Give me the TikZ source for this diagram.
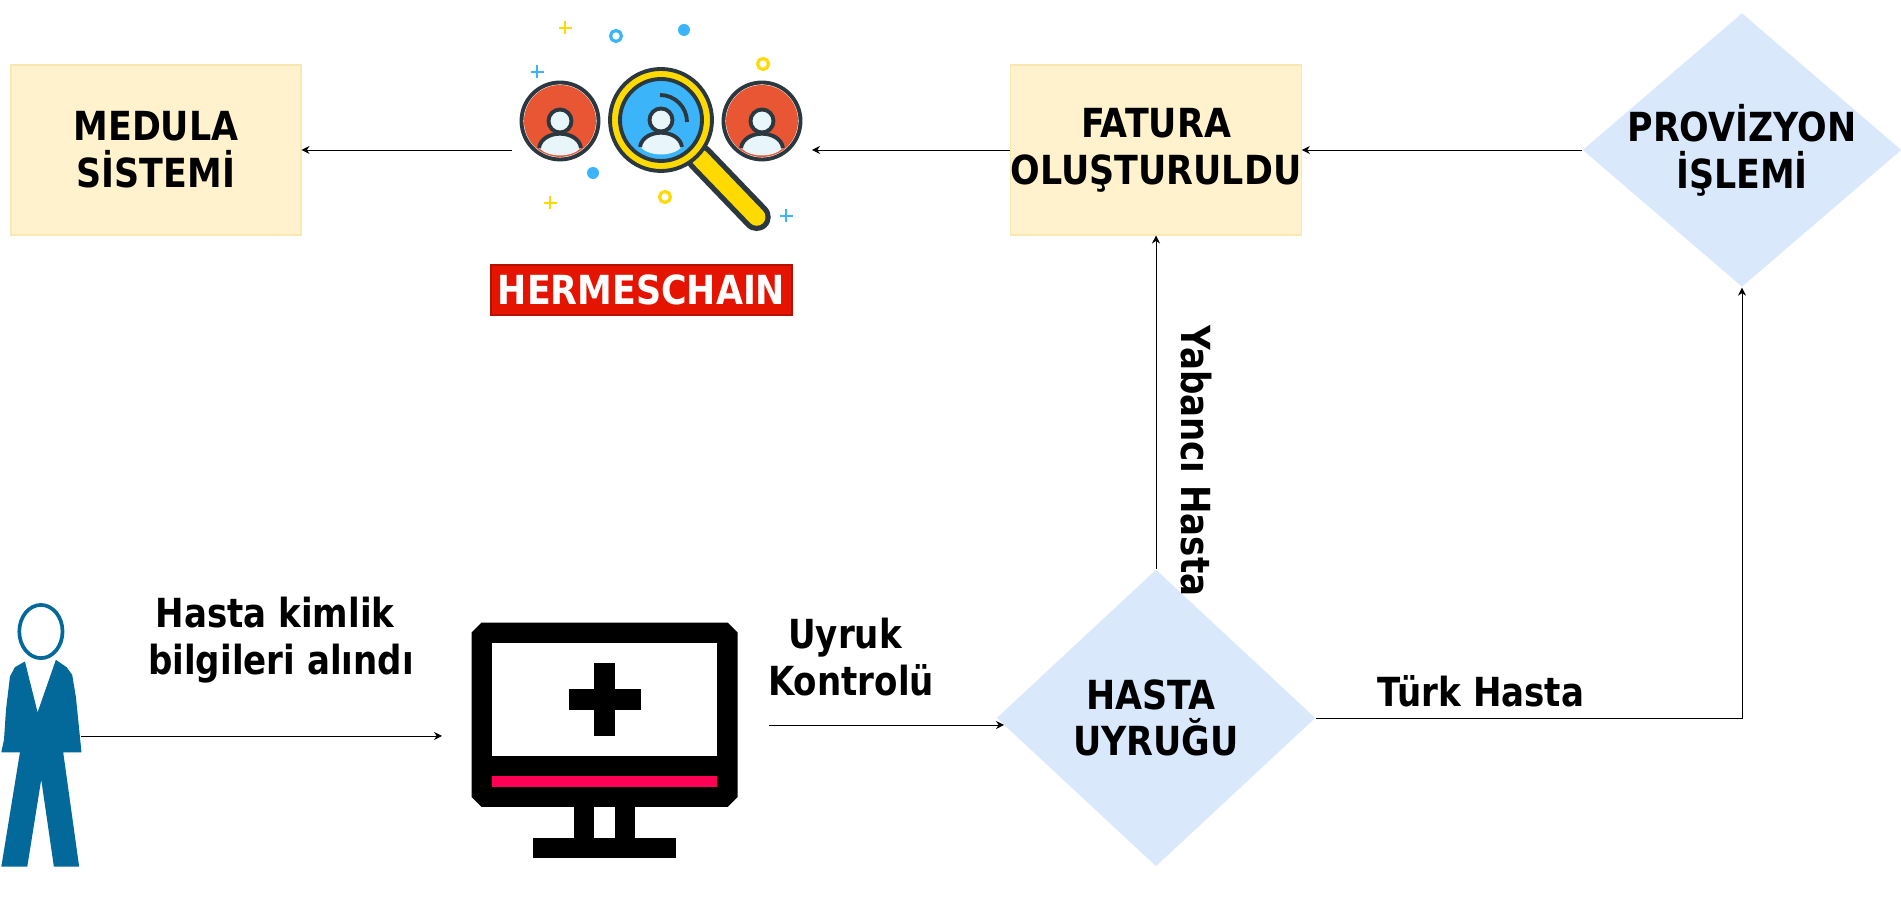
\documentclass[tikz,border=0pt]{standalone}
\usepackage{fontspec}
\setmainfont{DejaVu Sans}[FakeStretch=0.87]
\newfontfamily\kucukyazi{DejaVu Sans}[FakeStretch=0.85]
\usetikzlibrary{positioning,shapes.geometric,arrows.meta}
\definecolor{kutusari}{RGB}{255,242,204}
\definecolor{kutukenar}{RGB}{250,232,180}
\definecolor{karomavi}{RGB}{218,232,252}
\definecolor{kisimavi}{RGB}{3,105,155}
\definecolor{hermesred}{RGB}{229,20,0}
\definecolor{koyu}{RGB}{43,56,64}
\definecolor{turuncu}{RGB}{232,86,52}
\definecolor{buzmavi}{RGB}{232,245,250}
\definecolor{gokmavi}{RGB}{60,180,250}
\definecolor{limon}{RGB}{255,218,0}
\definecolor{pembe}{RGB}{255,0,85}
\tikzset{
  yazi/.style={font=\fontsize{11.4}{13.3}\selectfont\bfseries, align=center, inner sep=0pt},
  etiket/.style={font=\fontsize{11.4}{13.3}\selectfont\kucukyazi\bfseries, align=center, inner sep=0pt},
  kutu/.style={yazi, draw=kutukenar, fill=kutusari, minimum width=2.9cm, minimum height=1.7cm, line width=0.3pt},
  karo/.style={diamond, fill=karomavi, inner sep=0pt, minimum width=3.19cm},
  baglanti/.style={-{Stealth[length=0.08cm,width=0.08cm]}, line width=0.25pt},
  ikonhat/.style={draw=koyu, line width=1.1pt},
  pikselkare/.style={x=0.00333cm, y=-0.00333cm},
}
\newcommand{\kisiikon}[4]{
  \fill[#3] (#1,#2) circle (#4);
  \fill[buzmavi] (#1-0.21,#2-0.27) .. controls (#1-0.18,#2-0.08) and (#1+0.18,#2-0.08) .. (#1+0.21,#2-0.27) .. controls (#1+0.11,#2-0.37) and (#1-0.11,#2-0.37) .. (#1-0.21,#2-0.27) -- cycle;
  \draw[ikonhat] (#1-0.21,#2-0.27) .. controls (#1-0.18,#2-0.08) and (#1+0.18,#2-0.08) .. (#1+0.21,#2-0.27);
  \draw[ikonhat, fill=buzmavi] (#1,#2) circle (0.115);
}
\newcommand{\arti}[3]{\draw[#3, line width=0.75pt] (#1-0.065,#2) -- (#1+0.065,#2) (#1,#2-0.065) -- (#1,#2+0.065);}
\newcommand{\halka}[3]{\draw[#3, line width=0.9pt] (#1,#2) circle (0.055);}
\newcommand{\nokta}[3]{\fill[#3] (#1,#2) circle (0.06);}
\newcommand{\SolX}{1.56}
\newcommand{\OrtaX}{11.56}
\newcommand{\SagX}{17.42}
\newcommand{\UstY}{7.51}
\newcommand{\AltY}{1.83}

\begin{document}
\begin{tikzpicture}
  \useasboundingbox (0,0) rectangle (19.01,9.01);

  \node[kutu] (medula) at (\SolX,\UstY) {MEDULA\\SİSTEMİ};
  \node[kutu] (fatura) at (\OrtaX,\UstY) {FATURA\\OLUŞTURULDU};
  \node[karo, aspect=1.164, minimum height=2.74cm] (provizyon) at (\SagX,\UstY) {};
  \node[karo, aspect=1.074, minimum height=2.97cm] (uyruk) at (\OrtaX,\AltY) {};
  \node[yazi] (provizyonyazi) at (provizyon) {PROVİZYON\\İŞLEMİ};
  \node[yazi] (uyrukyazi) at (uyruk) {HASTA\hspace*{0.1cm}\\UYRUĞU};
  \node[yazi, fill=hermesred, draw=hermesred!80!black, text=white, minimum width=3.01cm, minimum height=0.5cm, line width=0.3pt] (hermes) at (6.415,6.11) {HERMESCHAIN};

  \node[etiket] (kimlik) at (2.81,2.61) {Hasta kimlik\hspace*{0.12cm}\\bilgileri alındı};
  \node[etiket] (kontrol) at (8.51,2.44) {Uyruk\hspace*{0.12cm}\\Kontrolü};
  \node[etiket] (turk) at (14.81,2.10) {Türk Hasta};
  \node[etiket, rotate=-90] (yabanci) at (11.96,4.40) {Yabancı Hasta};

  % kisi
  \begin{scope}[shift={(0,3.21)}, pikselkare]
    \fill[kisimavi] (75,245) -- (113,398) -- (168,240) -- (200,262) -- (217,285) -- (228,350) -- (245,518) -- (190,518) -- (238,862) -- (162,862) -- (124,600) -- (82,862) -- (4,862) -- (60,518) -- (4,518) -- (12,480) -- (18,390) -- (30,290) -- (45,262) -- cycle;
    \draw[kisimavi, line width=1.05pt] (123,155) ellipse (65 and 80);
  \end{scope}
  \coordinate (kisi) at (0.81,1.65);

  % monitor
  \begin{scope}[shift={(4.5,3.01)}, pikselkare]
    \fill[black] (95,68) -- (835,68) -- (865,98) -- (865,592) -- (835,622) -- (95,622) -- (65,592) -- (65,98) -- cycle;
    \fill[white] (125,130) rectangle (803,468);
    \fill[pembe] (127,530) rectangle (803,562);
    \fill[black] (434,190) rectangle (496,408);
    \fill[black] (357,268) rectangle (573,330);
    \fill[black] (373,622) rectangle (557,715);
    \fill[white] (434,622) rectangle (496,715);
    \fill[black] (249,715) rectangle (680,777);
  \end{scope}
  \coordinate (monitor) at (4.42,1.65);
  \coordinate (monitorcikis) at (7.69,1.76);
  \coordinate (uyrukgiris) at (10.04,1.76);

  % arama ikonu
  \draw[koyu, line width=8pt, line cap=round] (7.0,7.43) -- (7.567,6.84);
  \draw[limon, line width=5pt, line cap=round] (7.0,7.43) -- (7.567,6.84);
  \kisiikon{5.6}{7.8}{turuncu}{0.36}
  \draw[ikonhat] (5.6,7.8) circle (0.385);
  \kisiikon{7.62}{7.8}{turuncu}{0.36}
  \draw[ikonhat] (7.62,7.8) circle (0.385);
  \fill[limon] (6.61,7.81) circle (0.495);
  \kisiikon{6.61}{7.81}{gokmavi}{0.4}
  \draw[ikonhat] (6.61,7.81) circle (0.41);
  \draw[ikonhat] (6.61,7.81) circle (0.51);
  \draw[koyu, line width=1.1pt] (6.60,8.06) arc (90:0:0.27);
  \arti{5.65}{8.73}{limon}
  \arti{5.37}{8.29}{gokmavi}
  \arti{5.50}{6.98}{limon}
  \arti{7.86}{6.85}{gokmavi}
  \halka{6.16}{8.65}{gokmavi}
  \halka{7.63}{8.37}{limon}
  \halka{6.65}{7.04}{limon}
  \nokta{6.84}{8.71}{gokmavi}
  \nokta{5.93}{7.28}{gokmavi}
  \coordinate (aramasol) at (5.12,\UstY);
  \coordinate (aramasag) at (8.12,\UstY);

  \draw[baglanti] (provizyon.west) -- (fatura.east);
  \draw[baglanti] (fatura.west) -- (aramasag);
  \draw[baglanti] (aramasol) -- (medula.east);
  \draw[baglanti] (kisi) -- (monitor);
  \draw[baglanti] (monitorcikis) -- (uyrukgiris);
  \draw[baglanti] (uyruk.north) -- (fatura.south);
  \draw[baglanti] (uyruk.east) -| (provizyon.south);

\end{tikzpicture}
\end{document}
